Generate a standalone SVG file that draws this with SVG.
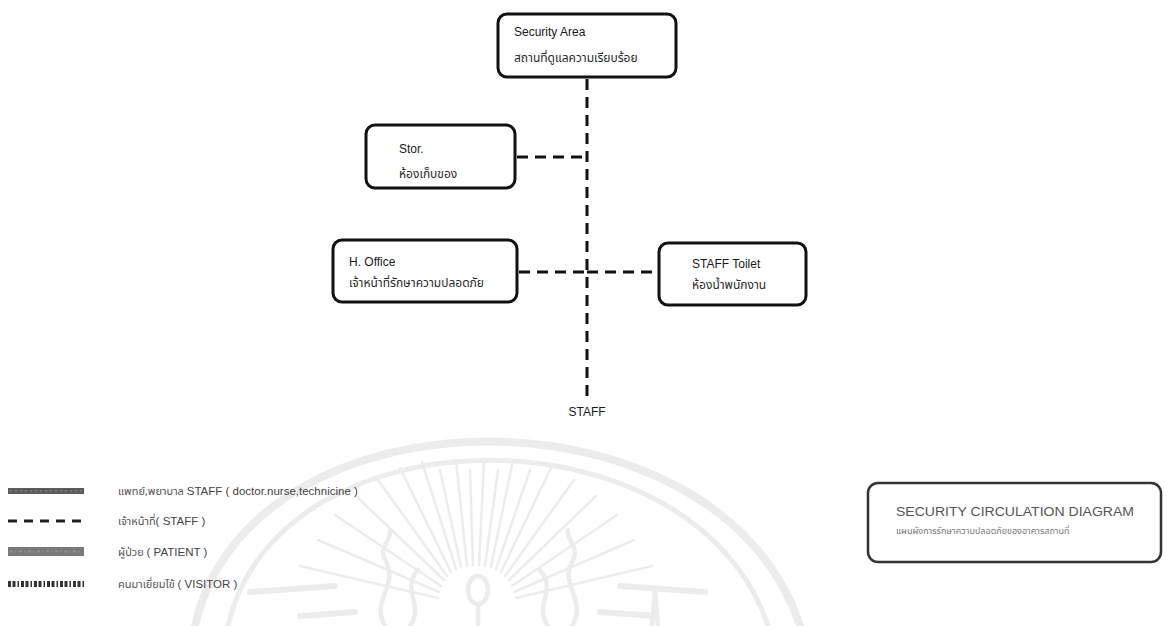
<svg xmlns="http://www.w3.org/2000/svg" width="1166" height="626" viewBox="0 0 1166 626">
  <style>
    .box { fill: #ffffff; stroke: #111111; stroke-width: 3; }
    .en { font-family: "Liberation Sans", Arial, sans-serif; font-size: 12px; fill: #1a1a1a; }
    .th { font-family: "Noto Sans Thai", "Noto Sans", "DejaVu Sans", sans-serif; font-size: 12px; fill: #2a2a2a; }
    .dash { fill: none; stroke: #111111; stroke-width: 3; stroke-dasharray: 11 7; }
    .lg-en { font-family: "Liberation Sans", Arial, sans-serif; font-size: 11.5px; fill: #444444; }
    .lg-th { font-family: "Noto Sans Thai", "Noto Sans", "DejaVu Sans", sans-serif; font-size: 11px; fill: #555555; }
    .wm { fill: none; stroke: #ececec; stroke-linecap: round; }
  </style>

  <rect width="1166" height="626" fill="#ffffff"/>

  <!-- faint emblem in the background -->
  <g id="watermark">
    <path class="wm" d="M 195 626 C 250 380, 720 380, 800 626" stroke-width="8"/>
    <path class="wm" d="M 228 626 C 278 405, 695 405, 768 626" stroke-width="5"/>
    <g stroke-width="2.5">
      <line class="wm" x1="438" y1="598" x2="300" y2="566"/>
      <line class="wm" x1="439" y1="592" x2="318" y2="540"/>
      <line class="wm" x1="441" y1="586" x2="335" y2="515"/>
      <line class="wm" x1="444" y1="580" x2="356" y2="496"/>
      <line class="wm" x1="447" y1="576" x2="378" y2="480"/>
      <line class="wm" x1="451" y1="572" x2="400" y2="468"/>
      <line class="wm" x1="456" y1="569" x2="422" y2="462"/>
      <line class="wm" x1="461" y1="567" x2="440" y2="470"/>
      <line class="wm" x1="467" y1="566" x2="456" y2="460"/>
      <line class="wm" x1="473" y1="565" x2="470" y2="470"/>
      <line class="wm" x1="479" y1="565" x2="484" y2="460"/>
      <line class="wm" x1="485" y1="566" x2="498" y2="470"/>
      <line class="wm" x1="491" y1="567" x2="513" y2="460"/>
      <line class="wm" x1="496" y1="569" x2="530" y2="470"/>
      <line class="wm" x1="501" y1="572" x2="552" y2="466"/>
      <line class="wm" x1="505" y1="576" x2="574" y2="480"/>
      <line class="wm" x1="509" y1="580" x2="596" y2="496"/>
      <line class="wm" x1="512" y1="586" x2="617" y2="515"/>
      <line class="wm" x1="514" y1="592" x2="634" y2="540"/>
      <line class="wm" x1="516" y1="598" x2="652" y2="566"/>
    </g>
    <g stroke-width="6">
      <line class="wm" x1="250" y1="592" x2="335" y2="586"/>
      <line class="wm" x1="620" y1="586" x2="705" y2="592"/>
      <line class="wm" x1="300" y1="616" x2="355" y2="612"/>
      <line class="wm" x1="600" y1="612" x2="655" y2="616"/>
    </g>
    <g stroke-width="4.5">
      <path class="wm" d="M 385 626 C 370 600, 400 585, 385 560 C 378 548, 392 540, 390 530"/>
      <path class="wm" d="M 410 626 C 425 605, 400 590, 418 570"/>
      <path class="wm" d="M 548 626 C 533 605, 558 590, 540 570"/>
      <path class="wm" d="M 572 626 C 588 600, 558 585, 573 560 C 580 548, 566 540, 568 530"/>
      <ellipse class="wm" cx="478" cy="590" rx="10" ry="14"/>
      <line class="wm" x1="478" y1="604" x2="478" y2="626"/>
      <path class="wm" d="M 652 626 L 655 590 L 658 626"/>
    </g>
  </g>

  <!-- dashed staff circulation links -->
  <g id="connectors">
    <line class="dash" x1="587" y1="79" x2="587" y2="398"/>
    <line class="dash" x1="517" y1="157" x2="587" y2="157"/>
    <line class="dash" x1="519" y1="272" x2="587" y2="272"/>
    <line class="dash" x1="587" y1="272" x2="657" y2="272"/>
  </g>

  <g id="node-security-area">
    <rect class="box" x="498" y="14" width="178" height="63" rx="9"/>
    <text class="en" x="514" y="36">Security Area</text>
    <text class="th" x="514" y="62">สถานที่ดูแลความเรียบร้อย</text>
  </g>

  <g id="node-storage">
    <rect class="box" x="366" y="125" width="149" height="63" rx="9"/>
    <text class="en" x="399" y="153">Stor.</text>
    <text class="th" x="399" y="178">ห้องเก็บของ</text>
  </g>

  <g id="node-h-office">
    <rect class="box" x="333" y="240" width="184" height="62" rx="9"/>
    <text class="en" x="349" y="266">H. Office</text>
    <text class="th" x="349" y="287" font-size="11">เจ้าหน้าที่รักษาความปลอดภัย</text>
  </g>

  <g id="node-staff-toilet">
    <rect class="box" x="659" y="243" width="147" height="62" rx="9"/>
    <text class="en" x="692" y="268">STAFF Toilet</text>
    <text class="th" x="692" y="289">ห้องน้ำพนักงาน</text>
  </g>

  <g id="node-staff">
    <text class="en" x="587" y="416" text-anchor="middle">STAFF</text>
  </g>

  <!-- legend -->
  <g id="legend">
    <rect x="8" y="488" width="76" height="6" fill="#5c5c5c"/>
    <line x1="10" y1="491" x2="82" y2="491" stroke="#8a8a8a" stroke-width="1" stroke-dasharray="2 3"/>
    <text class="lg-th" x="118" y="495">แพทย์,พยาบาล <tspan class="lg-en">STAFF ( doctor.nurse,technicine )</tspan></text>

    <line x1="8" y1="521" x2="84" y2="521" stroke="#222222" stroke-width="3" stroke-dasharray="9 7"/>
    <text class="lg-th" x="118" y="525">เจ้าหน้าที่<tspan class="lg-en">( STAFF )</tspan></text>

    <rect x="8" y="547" width="76" height="9" fill="#7a7a7a"/>
    <line x1="10" y1="551.5" x2="82" y2="551.5" stroke="#8e8e8e" stroke-width="2" stroke-dasharray="3 2 1 3"/>
    <text class="lg-th" x="118" y="556">ผู้ป่วย  <tspan class="lg-en">( PATIENT )</tspan></text>

    <line x1="8" y1="584" x2="84" y2="584" stroke="#333333" stroke-width="6" stroke-dasharray="3 1.5 3 2 1.5 2"/>
    <text class="lg-th" x="118" y="588">คนมาเยี่ยมไข้ <tspan class="lg-en">( VISITOR )</tspan></text>
  </g>

  <!-- title panel -->
  <g id="title">
    <rect x="868" y="483" width="293" height="79" rx="10" fill="#ffffff" stroke="#333333" stroke-width="2.5"/>
    <text x="896" y="516" font-family="Liberation Sans, Arial, sans-serif" font-size="12.5" fill="#555555" textLength="238" lengthAdjust="spacingAndGlyphs">SECURITY CIRCULATION DIAGRAM</text>
    <text x="896" y="534" font-family="Noto Sans Thai, Noto Sans, DejaVu Sans, sans-serif" font-size="9" fill="#777777">แผนผังการรักษาความปลอดภัยของอาคารสถานที่</text>
  </g>
</svg>
